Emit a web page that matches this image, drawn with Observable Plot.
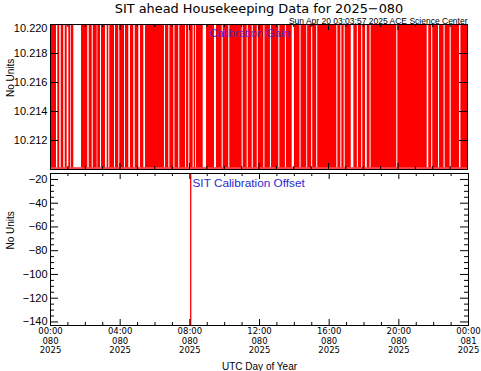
<!DOCTYPE html>
<html><head><meta charset="utf-8">
<script src="https://cdn.jsdelivr.net/npm/d3@7"></script>
<script src="https://cdn.jsdelivr.net/npm/@observablehq/plot@0.6"></script>
<style>
body{margin:0;background:#fff;}
#wrap{position:relative;width:481px;height:371px;overflow:hidden;background:#fff;}
#wrap svg{display:block;}
</style></head><body><div id="wrap"></div>
<script>
// ---- data ----
const hours = [0, 4, 8, 12, 16, 20, 24];
const tickLabels = ["00:00\n080\n2025", "04:00\n080\n2025", "08:00\n080\n2025", "12:00\n080\n2025", "16:00\n080\n2025", "20:00\n080\n2025", "00:00\n081\n2025"];
const minorHours = [1,2,3,5,6,7,9,10,11,13,14,15,17,18,19,21,22,23];
const gainHigh = 10.2200;
const gainLow = 10.2101;
const gainSpan = [[0, 24]];
// intervals (hours) where the calibration gain stays constant (no toggling)
const gainGaps = [
  [0.345,0.42],[0.535,0.616],[0.765,0.846],[0.961,1.053],[1.151,1.191],[1.341,1.784],
  [2.147,2.227],[2.40,2.458],[2.688,2.722],[2.878,2.935],[3.165,3.263],[3.355,3.413],
  [3.683,3.741],[3.931,3.988],[4.259,4.317],[4.506,4.604],[4.794,4.875],[5.082,5.18],
  [5.37,5.468],[6.56,6.62],[6.81,6.87],[7.10,7.16],[7.38,7.44],[7.77,7.83],[7.96,8.02],
  [8.21,8.27],[8.35,8.40],[8.79,8.98],[9.44,9.55],[9.88,9.94],[10.26,10.32],[11.03,11.09],
  [11.32,11.38],[11.61,11.67],[11.90,11.96],[12.28,12.34],[12.66,12.72],[13.14,13.20],
  [13.52,13.58],[13.91,14.04],[14.36,14.42],[14.75,14.80],[15.03,15.09],[15.32,15.38],
  [16.48,16.54],[16.71,16.77],[16.90,16.96],[17.31,17.46],[17.66,17.72],[17.91,17.97],
  [18.13,18.23],[18.39,18.45],[19.93,19.99],[21.68,21.77],[21.94,22.00],[22.33,22.39],
  [22.65,22.71],[23.00,23.06],[23.54,23.62]
];
const gainYTicks = [10.212, 10.214, 10.216, 10.218, 10.220];
const gainYLabels = ["10.212", "10.214", "10.216", "10.218", "10.220"];
const offsetTime = [8.05];
const offsetYTicks = [-140, -120, -100, -80, -60, -40, -20];
const offsetYMinor = [-135,-130,-125,-115,-110,-105,-95,-90,-85,-75,-70,-65,-55,-50,-45,-35,-30,-25];

// ---- layout ----
const FONT = "'Liberation Sans', Arial, sans-serif";
const W = 481;
const wrap = document.getElementById("wrap");

function ticksMarks(ph, pw, yMajor, yMinor) {
  const m = [];
  m.push(Plot.ruleX(hours, {x: d => d, insetTop: ph - 6, stroke: "black"}));
  m.push(Plot.ruleX(minorHours, {x: d => d, insetTop: ph - 3, stroke: "black"}));
  m.push(Plot.ruleX(hours, {x: d => d, insetBottom: ph - 6, stroke: "black"}));
  m.push(Plot.ruleX(minorHours, {x: d => d, insetBottom: ph - 3, stroke: "black"}));
  m.push(Plot.ruleY(yMajor, {y: d => d, insetRight: pw - 8, stroke: "black"}));
  m.push(Plot.ruleY(yMajor, {y: d => d, insetLeft: pw - 8, stroke: "black"}));
  if (yMinor) {
    m.push(Plot.ruleY(yMinor, {y: d => d, insetRight: pw - 4, stroke: "black"}));
    m.push(Plot.ruleY(yMinor, {y: d => d, insetLeft: pw - 4, stroke: "black"}));
  }
  return m;
}

// top panel
const t = {h: 172, mt: 24, mb: 3, ml: 50, mr: 14};
const tph = t.h - t.mt - t.mb, tpw = W - t.ml - t.mr;
const topPlot = Plot.plot({
  width: W, height: t.h, marginTop: t.mt, marginBottom: t.mb, marginLeft: t.ml, marginRight: t.mr,
  style: {fontFamily: FONT, fontSize: "11px", background: "white", color: "black", overflow: "visible"},
  x: {domain: [0, 24], axis: null},
  y: {domain: [10.210, 10.220], axis: null},
  marks: [
    Plot.rect(gainSpan, {x1: d => d[0], x2: d => d[1], y1: gainLow, y2: gainHigh, fill: "#ff0000"}),
    Plot.rect(gainGaps, {x1: d => d[0], x2: d => d[1], y1: gainLow, y2: gainHigh, fill: "white"}),
    Plot.ruleY([gainLow], {stroke: "#ff0000", strokeWidth: 1.2}),
    Plot.frame({stroke: "black"}),
    ...ticksMarks(tph, tpw, gainYTicks, null),
    Plot.axisY(gainYTicks.slice(0, 4), {tickSize: 0, tickPadding: 3, tickFormat: d => gainYLabels[gainYTicks.indexOf(d)], fontSize: 11}),
    Plot.axisY(gainYTicks.slice(4), {tickSize: 0, tickPadding: 3, dy: 3.5, tickFormat: d => gainYLabels[gainYTicks.indexOf(d)], fontSize: 11}),
    Plot.text(["SIT ahead Housekeeping Data for 2025\u2212080"], {frameAnchor: "top", dy: -16.1, fontSize: 12.9, fontFamily: "'DejaVu Sans', sans-serif", lineAnchor: "middle"}),
    Plot.text(["Sun Apr 20 03:03:57 2025 ACE Science Center"], {frameAnchor: "top-right", textAnchor: "end", dy: -3.6, fontSize: 8.5, lineAnchor: "middle"}),
    Plot.text(["Calibration Gain"], {frameAnchor: "top-left", textAnchor: "start", dx: 159, dy: 9, fontSize: 11.2, fill: "#5a23cc", lineAnchor: "middle"}),
    Plot.text(["No Units"], {frameAnchor: "left", rotate: -90, dx: -40, fontSize: 10})
  ]
});
wrap.appendChild(topPlot);

// bottom panel
const b = {h: 199, mt: 1, mb: 46, ml: 50, mr: 13};
const bph = b.h - b.mt - b.mb, bpw = W - b.ml - b.mr;
const botPlot = Plot.plot({
  width: W, height: b.h, marginTop: b.mt, marginBottom: b.mb, marginLeft: b.ml, marginRight: b.mr,
  style: {fontFamily: FONT, fontSize: "11px", background: "white", color: "black", overflow: "visible"},
  x: {domain: [0, 24], axis: null},
  y: {domain: [-143, -15], axis: null},
  marks: [
    Plot.ruleX(offsetTime, {x: d => d, stroke: "#ff0000", strokeWidth: 1.3}),
    Plot.frame({stroke: "black"}),
    ...ticksMarks(bph, bpw, offsetYTicks, offsetYMinor),
    Plot.axisY(offsetYTicks, {tickSize: 0, tickPadding: 3, fontSize: 11}),
    Plot.axisX(hours, {tickSize: 0, tickPadding: 1, fontSize: 8.5, fontFamily: "'DejaVu Sans', sans-serif", lineHeight: 1.17, tickFormat: d => tickLabels[hours.indexOf(d)]}),
    Plot.text(["SIT Calibration Offset"], {frameAnchor: "top-left", textAnchor: "start", dx: 142, dy: 10, fontSize: 11.8, fill: "#2a2acc", lineAnchor: "middle"}),
    Plot.text(["No Units"], {frameAnchor: "left", rotate: -90, dx: -40, fontSize: 10}),
    Plot.text(["UTC Day of Year"], {frameAnchor: "bottom", dy: 41, fontSize: 10, lineAnchor: "middle"})
  ]
});
wrap.appendChild(botPlot);
</script>
</body></html>
